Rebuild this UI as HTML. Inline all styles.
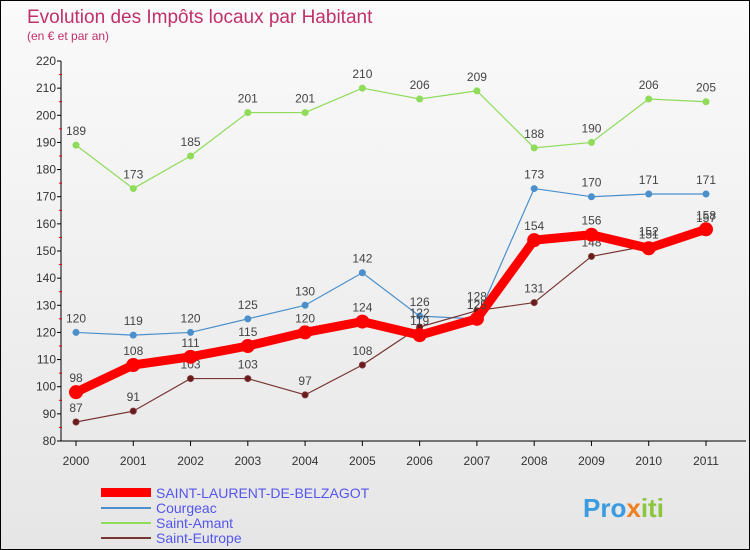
<!DOCTYPE html>
<html><head><meta charset="utf-8"><style>
body{margin:0}
#wrap{position:relative;width:748px;height:548px;border:1px solid #000;background:linear-gradient(#fafafa,#e6e6e6);font-family:"Liberation Sans",sans-serif;overflow:hidden}
</style></head><body>
<div id="wrap">
<svg id="c" width="748" height="548">
<text x="26" y="22" font-size="19" fill="#c0306a">Evolution des Impôts locaux par Habitant</text>
<text x="26" y="39" font-size="12" fill="#c0306a">(en € et par an)</text>
<g id="axes"></g><g id="series"></g>
<g>
<rect x="100" y="487" width="50" height="9" fill="#f00"/>
<text x="155" y="497" font-size="14" fill="#5555ee">SAINT-LAURENT-DE-BELZAGOT</text>
<line x1="100" y1="507" x2="150" y2="507" stroke="#4b90cc" stroke-width="2"/>
<text x="155" y="512" font-size="14" fill="#5555ee">Courgeac</text>
<line x1="100" y1="522" x2="150" y2="522" stroke="#8fdb5a" stroke-width="2"/>
<text x="155" y="527" font-size="14" fill="#5555ee">Saint-Amant</text>
<line x1="100" y1="537" x2="150" y2="537" stroke="#7a3535" stroke-width="2"/>
<text x="155" y="542" font-size="14" fill="#5555ee">Saint-Eutrope</text>
</g>
<text x="582" y="516" font-size="26" font-weight="bold" fill="#3a9be0">Pro<tspan fill="#f08020">x</tspan><tspan fill="#8cc63f">iti</tspan></text>
</svg>
</div>
<script>
const years=[2000,2001,2002,2003,2004,2005,2006,2007,2008,2009,2010,2011];
const yTicks=[80,90,100,110,120,130,140,150,160,170,180,190,200,210,220];
const slb=[98,108,111,115,120,124,119,125,154,156,151,158];
const courgeac=[120,119,120,125,130,142,126,125,173,170,171,171];
const saintAmant=[189,173,185,201,201,210,206,209,188,190,206,205];
const saintEutrope=[87,91,103,103,97,108,122,128,131,148,152,157];
const NS="http://www.w3.org/2000/svg";
const X=i=>75+i*(630/11);
const Y=v=>440-(v-80)*(380/140);
function mk(p,t,a){const e=document.createElementNS(NS,t);for(const k in a)e.setAttribute(k,a[k]);p.appendChild(e);return e;}
const ax=document.getElementById('axes');
let l=mk(ax,'line',{x1:60,y1:60,x2:60,y2:440,stroke:'#000'});


l=mk(ax,'line',{x1:60,y1:440,x2:745,y2:440,stroke:'#000'});


yTicks.forEach(v=>{
 mk(ax,'line',{x1:56,y1:Y(v),x2:60,y2:Y(v),stroke:'#000'});
 if(v<220)mk(ax,'line',{x1:58,y1:Y(v+5),x2:61,y2:Y(v+5),stroke:'#e00'});
 const t=mk(ax,'text',{x:55,y:Y(v)+4,'font-size':12,fill:'#333','text-anchor':'end'});t.textContent=v;
 
 
});
years.forEach((y,i)=>{
 mk(ax,'line',{x1:X(i),y1:440,x2:X(i),y2:445,stroke:'#000'});
 const t=mk(ax,'text',{x:X(i),y:464,'font-size':12,fill:'#333','text-anchor':'middle'});t.textContent=y;
 
 
});
const sg=document.getElementById('series');
function series(d,name,col,w,r,dot){
 const g=mk(sg,'g',{});
 
 
 const p=mk(g,'polyline',{points:d.map((v,i)=>X(i)+','+Y(v)).join(' '),fill:'none',stroke:col,'stroke-width':w,'stroke-linejoin':'round'});
 
 
 d.forEach((v,i)=>{
  const c=mk(g,'circle',{cx:X(i),cy:Y(v),r:r,fill:dot,stroke:col,'stroke-width':1});
  
  
  const t=mk(g,'text',{x:X(i),y:Y(v)-10,'font-size':12,fill:'#444','text-anchor':'middle'});t.textContent=v;
  
  
 });
}
series(saintAmant,'saint-amant','#8fdb5a',1.2,3,'#8fdb5a');
series(courgeac,'courgeac','#4b90cc',1.2,3,'#4b90cc');
series(saintEutrope,'saint-eutrope','#7a3535',1.2,3,'#6a1a1a');
series(slb,'slb','#f00',9,6.5,'#f00');
</script>
</body></html>
